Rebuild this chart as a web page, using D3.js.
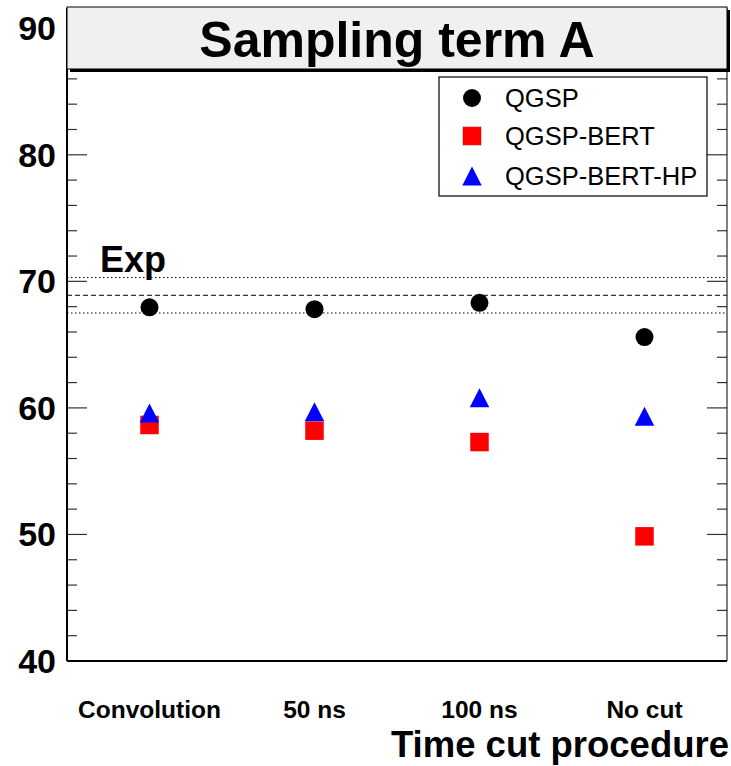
<!DOCTYPE html>
<html><head><meta charset="utf-8">
<script src="https://cdn.jsdelivr.net/npm/d3@7"></script>
<style>html,body{margin:0;padding:0;background:#fff;}svg{display:block;}</style>
</head><body>
<script>
const categories = ["Convolution", "50 ns", "100 ns", "No cut"];
const seriesNames = ["QGSP", "QGSP-BERT", "QGSP-BERT-HP"];
const qgsp = [67.95, 67.8, 68.3, 65.6];
const qgspBert = [58.65, 58.2, 57.3, 49.85];
const qgspBertHp = [59.6, 59.7, 60.8, 59.35];
const expValue = [68.9];
const expError = [1.4];
const yTicks = [40, 50, 60, 70, 80, 90];
const titleText = "Sampling term A";
const xTitle = "Time cut procedure";

const W = 731, H = 766;
const L = 67, R = 727, T = 8, B = 661;
const font = "'Liberation Sans', Arial, Helvetica, sans-serif";

const svg = d3.select("body").append("svg").attr("width", W).attr("height", H)
  .style("font-family", font);

const x = d3.scaleBand().domain(categories).range([L, R]);
const y = d3.scaleLinear().domain([40, 91.6]).range([B, T]);

// exp lines
const g = svg.append("g");
[[expValue[0] + expError[0], "1.5,2.5"], [expValue[0], "5,3"], [expValue[0] - expError[0], "1.5,2.5"]].forEach(([v, d]) => {
  g.append("line").attr("x1", L).attr("x2", R).attr("y1", y(v)).attr("y2", y(v))
    .attr("stroke", "#000").attr("stroke-width", 1).attr("stroke-dasharray", d);
});

// axes with ROOT-like ticks
const minorTicks = d3.range(40, 92, 2);
const axL = svg.append("g");
minorTicks.forEach(v => {
  const major = v % 10 === 0;
  const len = major ? 20 : 10;
  axL.append("line").attr("x1", L).attr("x2", L + len).attr("y1", y(v)).attr("y2", y(v))
    .attr("stroke", "#333").attr("stroke-width", 1.2);
  axL.append("line").attr("x1", R).attr("x2", R - len).attr("y1", y(v)).attr("y2", y(v))
    .attr("stroke", "#333").attr("stroke-width", 1.2);
});
svg.append("g").selectAll("text").data(yTicks).join("text")
  .attr("x", 56).attr("y", d => y(d) + 12).attr("text-anchor", "end")
  .attr("font-size", 34).attr("font-weight", "bold").text(d => d);

// frame
svg.append("line").attr("x1", L).attr("x2", L).attr("y1", T).attr("y2", B).attr("stroke", "#000").attr("stroke-width", 2);
svg.append("line").attr("x1", R).attr("x2", R).attr("y1", T).attr("y2", B).attr("stroke", "#000").attr("stroke-width", 1);
svg.append("line").attr("x1", L).attr("x2", R).attr("y1", B).attr("y2", B).attr("stroke", "#000").attr("stroke-width", 2);

// x labels
svg.append("g").selectAll("text").data(categories).join("text")
  .attr("x", d => x(d) + x.bandwidth() / 2).attr("y", 718).attr("text-anchor", "middle")
  .attr("font-size", 24.5).attr("font-weight", "bold").text(d => d);
svg.append("text").attr("x", 729).attr("y", 757).attr("text-anchor", "end")
  .attr("font-size", 36.5).attr("font-weight", "bold").text(xTitle);

// Exp label
svg.append("text").attr("x", 100).attr("y", 272).attr("font-size", 36).attr("font-weight", "bold").text("Exp");

// markers
const cx = d => x(d) + x.bandwidth() / 2;
const triPath = (w, h) => `M0,${-h / 2}L${w / 2},${h / 2}L${-w / 2},${h / 2}Z`;
const sym = {
  circle: d3.symbol().type(d3.symbolCircle).size(Math.PI * 9 * 9)(),
  square: d3.symbol().type(d3.symbolSquare).size(18.5 * 18.5)(),
  triangle: triPath(19.5, 19)
};
const series = [
  {name: seriesNames[0], vals: qgsp, s: sym.circle, color: "#000"},
  {name: seriesNames[1], vals: qgspBert, s: sym.square, color: "#ff0000"},
  {name: seriesNames[2], vals: qgspBertHp, s: sym.triangle, color: "#0000ff"}
];
series.forEach(sr => {
  svg.append("g").selectAll("path").data(categories).join("path")
    .attr("d", sr.s).attr("fill", sr.color)
    .attr("transform", (d, i) => `translate(${cx(d)},${y(sr.vals[i])})`);
});

// legend
const lg = svg.append("g");
lg.append("rect").attr("x", 439).attr("y", 77).attr("width", 268).attr("height", 119)
  .attr("fill", "#fff").attr("stroke", "#000").attr("stroke-width", 1.2);
const ly = [98, 136, 176];
series.forEach((sr, i) => {
  lg.append("path").attr("d", sr.s).attr("fill", sr.color).attr("transform", `translate(472,${ly[i]})`);
  lg.append("text").attr("x", 505).attr("y", ly[i] + 9)
    .attr("font-size", 25.5).text(sr.name);
});

// title box with shadow
svg.append("rect").attr("x", L + 3).attr("y", 10).attr("width", R - L).attr("height", 62).attr("fill", "#000");
svg.append("rect").attr("x", L).attr("y", 7).attr("width", R - L).attr("height", 62)
  .attr("fill", "#f0f0f0").attr("stroke", "#000").attr("stroke-width", 1);
svg.append("text").attr("x", (L + R) / 2).attr("y", 57).attr("text-anchor", "middle")
  .attr("font-size", 50).attr("font-weight", "bold").text(titleText);
</script>
</body></html>
